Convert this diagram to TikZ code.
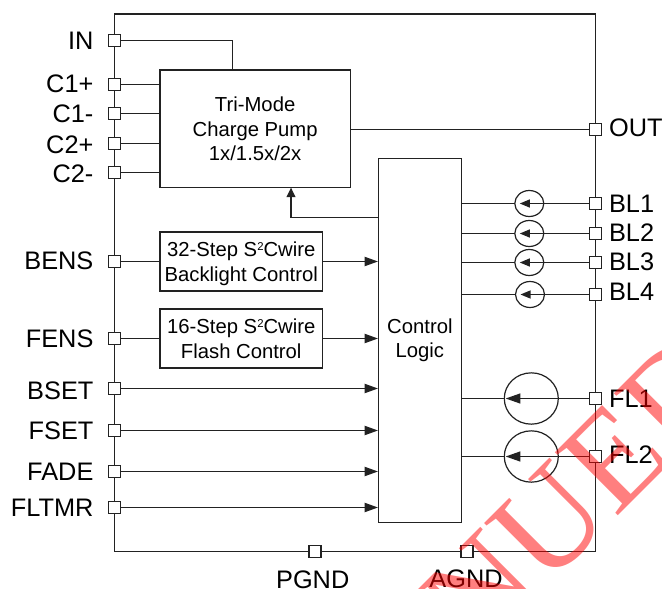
\documentclass[tikz,border=0pt]{standalone}
\usepackage{fontspec}
\setmainfont{Liberation Sans}
\newfontfamily\stampfont{Liberation Serif}
\usetikzlibrary{arrows.meta,shapes.geometric}
\definecolor{wiregray}{HTML}{222222}
\definecolor{stampred}{HTML}{FF0000}
\newcommand{\sqtwo}{\raisebox{4.6pt}{\fontsize{8.5}{8.5}\selectfont 2}}
\tikzset{
  blockbox/.style={draw=wiregray, inner sep=0pt, align=center, font=\fontsize{15.2}{18.6}\selectfont},
  pad/.style={draw=wiregray, fill=white, inner sep=0pt, minimum size=9pt},
  padlabel/.style={inner sep=0pt, text height=13.6pt, text depth=0pt, font=\fontsize{19}{21}\selectfont},
  smallsrc/.style={ellipse, draw=wiregray, inner sep=0pt, minimum width=21.75pt, minimum height=19.5pt},
  bigsrc/.style={ellipse, draw=wiregray, inner sep=0pt, minimum width=40.5pt, minimum height=38.5pt},
  smalltip/.style={-{Triangle[length=7.5pt,width=6pt]}},
  bigtip/.style={-{Triangle[length=11pt,width=7.5pt]}},
  uptip/.style={-{Triangle[length=7pt,width=6.7pt]}}
}

\begin{document}
\begin{tikzpicture}[x=0.75pt, y=-0.75pt, >={Triangle[length=10pt,width=7pt]}, line width=0.9pt]
  \useasboundingbox (0,0) rectangle (662,589);
  \node[draw=wiregray, minimum width=360.75pt, minimum height=403pt] (chip) at (355,282.75) {};
  \node[blockbox, minimum width=142.7pt, minimum height=88.3pt] (pump) at (255.15,128.85) {Tri-Mode\\Charge Pump\\1x/1.5x/2x};
  \node[blockbox, minimum width=62.1pt, minimum height=273pt] (logic) at (419.9,340.3) {Control\\Logic};
  \node[blockbox, minimum width=121.9pt, minimum height=44.25pt] (backlight) at (241.25,261.5) {\rule{0pt}{14pt}32-Step S\sqtwo Cwire\\Backlight Control};
  \node[blockbox, minimum width=121.9pt, minimum height=44.25pt] (flash) at (241.25,338.5) {16-Step S\sqtwo Cwire\\Flash Control};

  \node[pad] (in) at (114.5,40.5) {};
  \node[pad] (cap1p) at (114.5,84.5) {};
  \node[pad] (cap1m) at (114.5,113.5) {};
  \node[pad] (cap2p) at (114.5,143.5) {};
  \node[pad] (cap2m) at (114.5,172.5) {};
  \node[pad] (bens) at (114.5,261.5) {};
  \node[pad] (fens) at (114.5,338.5) {};
  \node[pad] (bset) at (114.5,388.5) {};
  \node[pad] (fset) at (114.5,430.5) {};
  \node[pad] (fade) at (114.5,471.5) {};
  \node[pad] (fltmr) at (114.5,507.5) {};
  \node[pad] (pgnd) at (315,551.5) {};
  \node[pad] (agnd) at (467,551.5) {};
  \node[pad] (out) at (595.5,129.5) {};
  \node[pad] (bl1) at (595.5,203.5) {};
  \node[pad] (bl2) at (595.5,233.5) {};
  \node[pad] (bl3) at (595.5,262.5) {};
  \node[pad] (bl4) at (595.5,294.5) {};
  \node[pad] (fl1) at (595.5,398.5) {};
  \node[pad] (fl2) at (595.5,456.5) {};

  \node[padlabel, anchor=east] (inlabel) at (94,40.5) {IN};
  \node[padlabel, anchor=east] (cap1plabel) at (94,83) {C1+};
  \node[padlabel, anchor=east] (cap1mlabel) at (94,113) {C1-};
  \node[padlabel, anchor=east] (cap2plabel) at (94,144) {C2+};
  \node[padlabel, anchor=east] (cap2mlabel) at (94,173) {C2-};
  \node[padlabel, anchor=east] (benslabel) at (94,260.7) {BENS};
  \node[padlabel, anchor=east] (fenslabel) at (94,338.7) {FENS};
  \node[padlabel, anchor=east] (bsetlabel) at (94,390) {BSET};
  \node[padlabel, anchor=east] (fsetlabel) at (94,430.7) {FSET};
  \node[padlabel, anchor=east] (fadelabel) at (94,471) {FADE};
  \node[padlabel, anchor=east] (fltmrlabel) at (94,507) {FLTMR};
  \node[padlabel] (pgndlabel) at (312.7,579) {PGND};
  \node[padlabel] (agndlabel) at (466,578) {AGND};
  \node[padlabel, anchor=west] (outlabel) at (608.5,127) {OUT};
  \node[padlabel, anchor=west] (bl1label) at (608.5,203) {BL1};
  \node[padlabel, anchor=west] (bl2label) at (608.5,232.7) {BL2};
  \node[padlabel, anchor=west] (bl3label) at (608.5,261.7) {BL3};
  \node[padlabel, anchor=west] (bl4label) at (608.5,291.7) {BL4};
  \node[padlabel, anchor=west] (fl1label) at (608.5,398) {FL1};
  \node[padlabel, anchor=west] (fl2label) at (608.5,454) {FL2};

  \node[smallsrc] (src1) at (529.3,203.5) {};
  \node[smallsrc] (src2) at (529.3,233.5) {};
  \node[smallsrc] (src3) at (529.3,262.5) {};
  \node[smallsrc] (src4) at (530,294.5) {};
  \node[bigsrc] (src5) at (531.3,398.5) {};
  \node[bigsrc] (src6) at (531.3,456.5) {};

  \coordinate (pumptop) at (232.3,70);
  \coordinate (pumpfoot) at (291,187.7);
  \draw[wiregray] (in.east) -| (pumptop);
  \draw[wiregray] (cap1p.east) -- (cap1p.east -| pump.west);
  \draw[wiregray] (cap1m.east) -- (cap1m.east -| pump.west);
  \draw[wiregray] (cap2p.east) -- (cap2p.east -| pump.west);
  \draw[wiregray] (cap2m.east) -- (cap2m.east -| pump.west);
  \draw[wiregray] (out.west) -- (out.west -| pump.east);
  \draw[wiregray, uptip] (logic.west |- 0,217.5) -| (pumpfoot);
  \draw[wiregray] (bens.east) -- (backlight.west);
  \draw[wiregray] (fens.east) -- (flash.west);
  \draw[wiregray, ->] (backlight.east) -- (backlight.east -| logic.west);
  \draw[wiregray, ->] (flash.east) -- (flash.east -| logic.west);
  \draw[wiregray, ->] (bset.east) -- (bset.east -| logic.west);
  \draw[wiregray, ->] (fset.east) -- (fset.east -| logic.west);
  \draw[wiregray, ->] (fade.east) -- (fade.east -| logic.west);
  \draw[wiregray, ->] (fltmr.east) -- (fltmr.east -| logic.west);
  \draw[wiregray, smalltip, shorten >=4.2pt] (bl1.west) -- (src1.west);
  \draw[wiregray, smalltip, shorten >=4.2pt] (bl2.west) -- (src2.west);
  \draw[wiregray, smalltip, shorten >=4.2pt] (bl3.west) -- (src3.west);
  \draw[wiregray, smalltip, shorten >=4.2pt] (bl4.west) -- (src4.west);
  \draw[wiregray, bigtip, shorten >=1.5pt] (fl1.west) -- (src5.west);
  \draw[wiregray, bigtip, shorten >=1.5pt] (fl2.west) -- (src6.west);
  \draw[wiregray] (src1.west) -- (src1.west -| logic.east);
  \draw[wiregray] (src2.west) -- (src2.west -| logic.east);
  \draw[wiregray] (src3.west) -- (src3.west -| logic.east);
  \draw[wiregray] (src4.west) -- (src4.west -| logic.east);
  \draw[wiregray] (src5.west) -- (src5.west -| logic.east);
  \draw[wiregray] (src6.west) -- (src6.west -| logic.east);

  \begin{scope}
    \clip (0,0) rectangle (662,589);
    \node[rotate=45, anchor=base west, text=stampred, text opacity=0.5, inner sep=0pt, font=\stampfont\fontsize{102}{102}\selectfont] (stamp) at (476,658) {NUED};
  \end{scope}
\end{tikzpicture}
\end{document}
